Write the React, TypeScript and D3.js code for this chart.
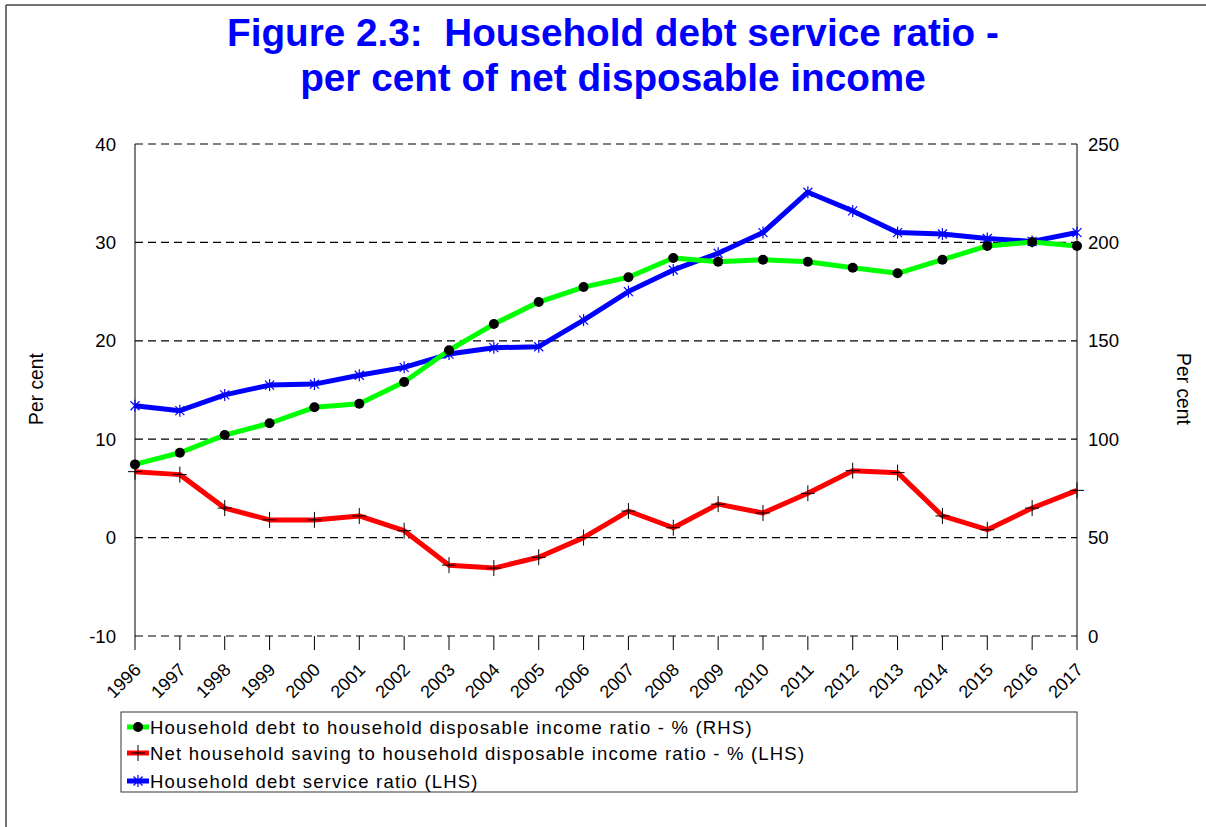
import React from "react";
import * as d3 from "d3";

const years = [1996,1997,1998,1999,2000,2001,2002,2003,2004,2005,2006,2007,2008,2009,2010,2011,2012,2013,2014,2015,2016,2017];
const debtToIncome = [87.2,93.1,102.1,108.1,116.2,118.0,129.1,145.2,158.5,169.7,177.3,182.3,192.1,190.2,191.2,190.2,187.1,184.3,191.2,198.2,200.2,198.2];
const savingRatio = [6.7,6.4,3.0,1.8,1.8,2.2,0.7,-2.8,-3.1,-2.0,0.0,2.7,1.0,3.4,2.5,4.5,6.8,6.6,2.2,0.8,3.0,4.8];
const debtService = [13.4,12.9,14.5,15.5,15.6,16.5,17.3,18.65,19.3,19.4,22.1,25.0,27.2,28.9,31.0,35.1,33.2,31.0,30.85,30.4,30.1,31.0];
const leftTicks = [-10,0,10,20,30,40];
const rightTicks = [0,50,100,150,200,250];
const legendLabels = [
  "Household debt to household disposable income ratio - % (RHS)",
  "Net household saving to household disposable income ratio - % (LHS)",
  "Household debt service ratio (LHS)",
];
const titleLines = ["Figure 2.3:  Household debt service ratio -", "per cent of net disposable income"];

const W = 1206, H = 827;
const L = 135, R = 1077, T = 144, B = 636;
const FONT = "'Liberation Sans', Arial, sans-serif";

export default function App() {
  const x = d3.scalePoint<number>().domain(years).range([L, R]);
  const yL = d3.scaleLinear().domain([-10, 40]).range([B, T]);
  const yR = d3.scaleLinear().domain([0, 250]).range([B, T]);

  const lineL = d3.line<number>().x((_, i) => x(years[i])!).y((v) => yL(v));
  const lineR = d3.line<number>().x((_, i) => x(years[i])!).y((v) => yR(v));

  const plus = (cx: number, cy: number, k: string | number) => (
    <g key={k} stroke="#000" strokeWidth={1}>
      <line x1={cx - 7} x2={cx + 7} y1={cy} y2={cy} />
      <line x1={cx} x2={cx} y1={cy - 8} y2={cy + 8} />
    </g>
  );
  const star = (cx: number, cy: number, k: string | number) => (
    <g key={k} stroke="#0000FF" strokeWidth={1.2}>
      <line x1={cx - 4.5} x2={cx + 4.5} y1={cy - 4.5} y2={cy + 4.5} />
      <line x1={cx - 4.5} x2={cx + 4.5} y1={cy + 4.5} y2={cy - 4.5} />
      <line x1={cx} x2={cx} y1={cy - 6} y2={cy + 6} />
    </g>
  );

  const legendX = 121, legendY = 712, legendW = 1077 - 121, legendH = 80;
  const rowY = [727, 753, 781];
  const colors = ["#00FF00", "#FF0000", "#0000FF"];

  return (
    <svg width={W} height={H} style={{ position: "absolute", left: 0, top: 0, background: "#fff" }} fontFamily={FONT}>
      <rect x={0} y={0} width={W} height={H} fill="#fff" />
      {/* frame */}
      <line x1={6} x2={W} y1={5} y2={5} stroke="#444" strokeWidth={1.5} />
      <line x1={6} x2={6} y1={5} y2={H} stroke="#444" strokeWidth={1.5} />

      {/* title */}
      {titleLines.map((t, i) => (
        <text key={i} x={613} y={46 + i * 45} textAnchor="middle" fill="#0000FF" fontWeight="bold" fontSize={38.7} style={{ whiteSpace: "pre" }}>
          {t}
        </text>
      ))}

      {/* gridlines */}
      {leftTicks.map((v) => (
        <line key={v} x1={L} x2={R} y1={yL(v)} y2={yL(v)} stroke="#000" strokeWidth={1.2} strokeDasharray="8,5" />
      ))}
      <line x1={L} x2={L} y1={T} y2={B} stroke="#000" strokeWidth={1} />
      <line x1={R} x2={R} y1={T} y2={B} stroke="#000" strokeWidth={1} />

      {/* x ticks */}
      {years.map((yr) => (
        <line key={yr} x1={x(yr)!} x2={x(yr)!} y1={B} y2={B + 14} stroke="#000" strokeWidth={1} />
      ))}
      {years.map((yr) => (
        <text key={yr} transform={`translate(${x(yr)! + 7},${B + 35}) rotate(-45)`} textAnchor="end" fontSize={18} fill="#000">
          {yr}
        </text>
      ))}

      {/* y tick labels */}
      {leftTicks.map((v) => (
        <text key={v} x={116} y={yL(v) + 6.5} textAnchor="end" fontSize={18.6} fill="#000">{v}</text>
      ))}
      {rightTicks.map((v) => (
        <text key={v} x={1088} y={yR(v) + 6.5} textAnchor="start" fontSize={18.6} fill="#000">{v}</text>
      ))}
      <text transform={`translate(43,389) rotate(-90)`} textAnchor="middle" fontSize={19.3}>Per cent</text>
      <text transform={`translate(1177,389) rotate(90)`} textAnchor="middle" fontSize={19.3}>Per cent</text>

      {/* series */}
      <path d={lineL(debtService)!} fill="none" stroke="#0000FF" strokeWidth={5} strokeLinejoin="round" />
      {debtService.map((v, i) => star(x(years[i])!, yL(v), i))}
      <path d={lineL(savingRatio)!} fill="none" stroke="#FF0000" strokeWidth={5} strokeLinejoin="round" />
      {savingRatio.map((v, i) => plus(x(years[i])!, yL(v), i))}
      <path d={lineR(debtToIncome)!} fill="none" stroke="#00FF00" strokeWidth={5} strokeLinejoin="round" />
      {debtToIncome.map((v, i) => (
        <circle key={i} cx={x(years[i])!} cy={yR(v)} r={5} fill="#000" />
      ))}

      {/* legend */}
      <rect x={legendX} y={legendY} width={legendW} height={legendH} fill="none" stroke="#333" strokeWidth={1} />
      {legendLabels.map((lab, i) => (
        <g key={i}>
          <line x1={127} x2={149} y1={rowY[i]} y2={rowY[i]} stroke={colors[i]} strokeWidth={5} />
          {i === 0 && <circle cx={138} cy={rowY[i]} r={5} fill="#000" />}
          {i === 1 && plus(138, rowY[i], "lp")}
          {i === 2 && star(138, rowY[i], "ls")}
          <text x={150} y={rowY[i] + 6.5} fontSize={18.5} letterSpacing={1.2} fill="#000">{lab}</text>
        </g>
      ))}
    </svg>
  );
}
